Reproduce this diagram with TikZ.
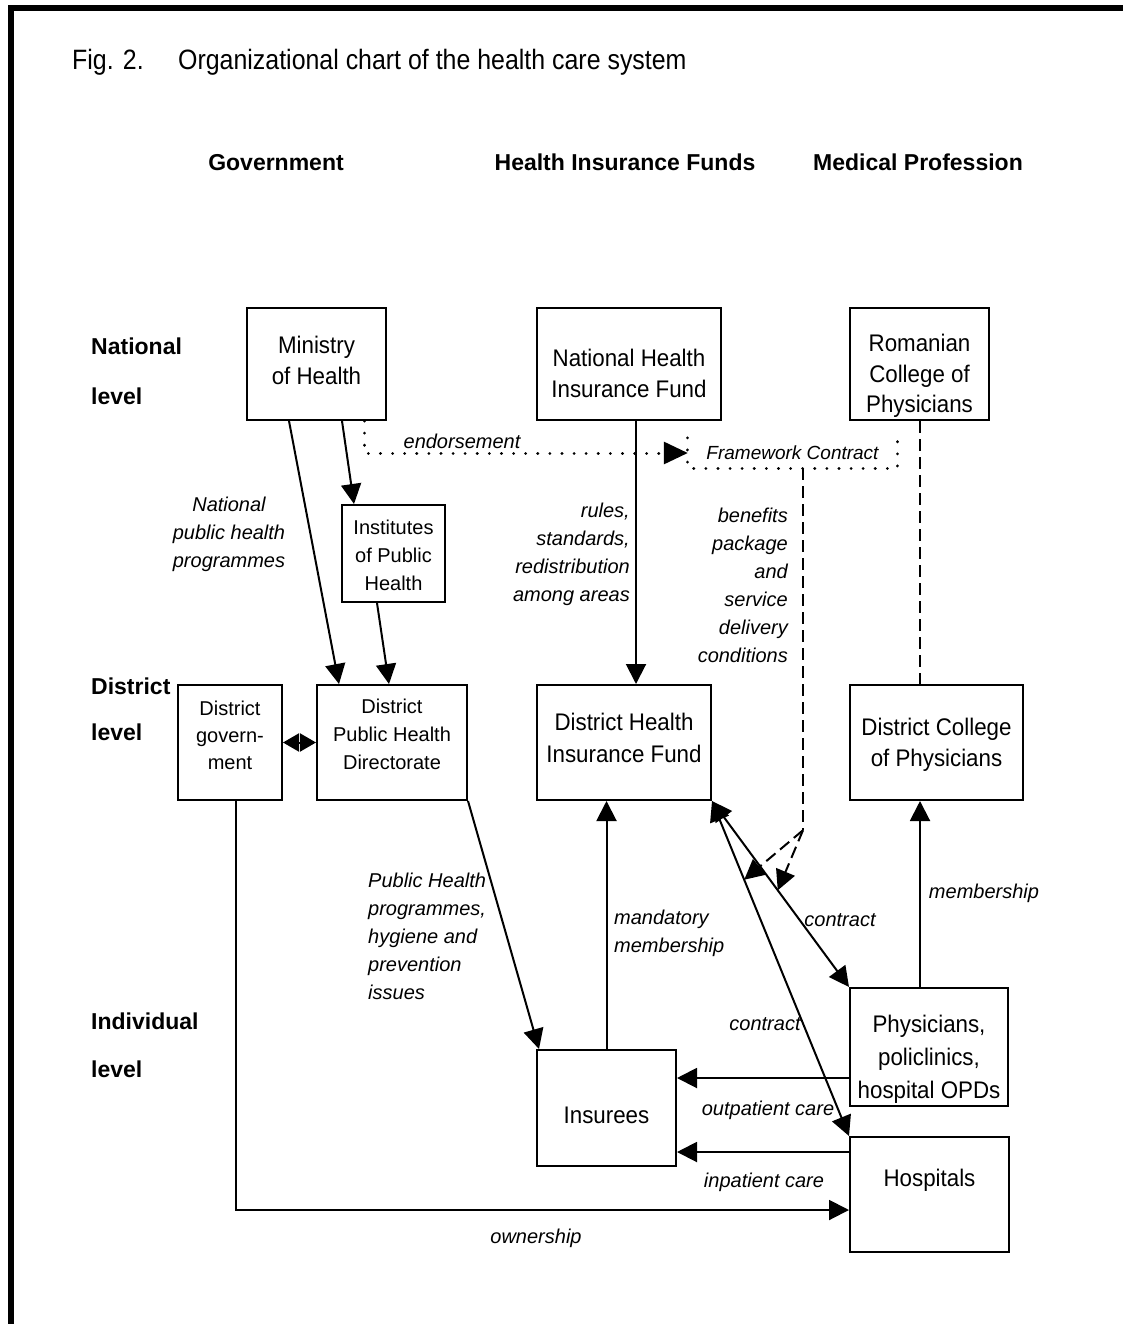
\documentclass[tikz,border=0pt]{standalone}
\usepackage{fontspec}
\setmainfont{Liberation Sans}
\newfontfamily\condfont[FakeStretch=0.89]{Liberation Sans}
\newfontfamily\boxfont[FakeStretch=0.93]{Liberation Sans}
\usetikzlibrary{arrows.meta,calc}

\tikzset{
  unitbox/.style={draw, line width=2pt, inner sep=0pt},
  bigtext/.style={inner sep=0pt, align=center, font=\boxfont\fontsize{24}{31}\selectfont},
  smalltext/.style={inner sep=0pt, align=center, font=\fontsize{20}{28}\selectfont},
  lbl/.style={font=\itshape\fontsize{20}{28}\selectfont, inner sep=0pt},
  hdr/.style={font=\bfseries\fontsize{23}{28}\selectfont, inner sep=0pt},
  tipA/.tip={Triangle[length=20pt,width=20pt]},
  tipS/.tip={Triangle[length=16pt,width=18pt]},
  link/.style={line width=2pt, -tipA},
  dlink/.style={line width=2pt, tipA-tipA},
  dotline/.style={line width=3pt, line cap=round, dash pattern=on 0.1pt off 12pt},
  dashline/.style={line width=2pt, dash pattern=on 12pt off 6pt},
}

\begin{document}
\begin{tikzpicture}[x=1pt, y=-1pt]
\useasboundingbox (0,0) rectangle (1123,1324);
\fill[white] (0,0) rectangle (1123,1324);

% frame
\draw[line width=6pt] (11,1324) -- (11,8) -- (1123,8);

% title
\node[anchor=base west, inner sep=0pt, font=\condfont\fontsize{28}{32}\selectfont] (figno) at (72,70) {Fig. 2.};
\node[anchor=base west, inner sep=0pt, font=\condfont\fontsize{28}{32}\selectfont] (title) at (178,70) {Organizational chart of the health care system};

% column headers
\node[hdr, anchor=base] (hgov) at (276,171) {Government};
\node[hdr, anchor=base] (hfund) at (625,171) {Health Insurance Funds};
\node[hdr, anchor=base] (hmed) at (918,171) {Medical Profession};

% row headers
\node[hdr, anchor=base west] (rnat1) at (91,354) {National};
\node[hdr, anchor=base west] (rnat2) at (91,404) {level};
\node[hdr, anchor=base west] (rdis1) at (91,694) {District};
\node[hdr, anchor=base west] (rdis2) at (91,740) {level};
\node[hdr, anchor=base west] (rind1) at (91,1029) {Individual};
\node[hdr, anchor=base west] (rind2) at (91,1077) {level};

% national level boxes
\node[unitbox, minimum width=139, minimum height=112] (moh) at (316.5,364) {};
\node[unitbox, minimum width=184, minimum height=112] (nhif) at (629,364) {};
\node[unitbox, minimum width=139, minimum height=112] (rcp) at (919.5,364) {};
\node[unitbox, minimum width=103, minimum height=97] (iph) at (393.5,553.5) {};

% district level boxes
\node[unitbox, minimum width=104, minimum height=115] (dgov) at (230,742.5) {};
\node[unitbox, minimum width=150, minimum height=115] (dphd) at (392,742.5) {};
\node[unitbox, minimum width=174, minimum height=115] (dhif) at (624,742.5) {};
\node[unitbox, minimum width=173, minimum height=115] (dcp) at (936.5,742.5) {};

% individual level boxes
\node[unitbox, minimum width=158, minimum height=118] (phys) at (929,1047) {};
\node[unitbox, minimum width=139, minimum height=116] (ins) at (606.5,1108) {};
\node[unitbox, minimum width=159, minimum height=115] (hosp) at (929.5,1194.5) {};

% box texts
\node[bigtext] (moh-t) at ($(moh)+(0,-3.5)$) {Ministry\\of Health};
\node[bigtext] (nhif-t) at ($(nhif)+(0,9)$) {National Health\\Insurance Fund};
\node[bigtext, font=\boxfont\fontsize{24}{30.5}\selectfont] (rcp-t) at ($(rcp)+(0,12)$) {Romanian\\College of\\Physicians};
\node[smalltext] (iph-t) at ($(iph)+(0,2)$) {Institutes\\of Public\\Health};
\node[smalltext, font=\fontsize{20}{27}\selectfont] (dgov-t) at ($(dgov)+(0,-7)$) {District\\govern-\\ment};
\node[smalltext, font=\fontsize{20}{28}\selectfont] (dphd-t) at ($(dphd)+(0,-8)$) {District\\Public Health\\Directorate};
\node[bigtext, font=\boxfont\fontsize{24}{32}\selectfont] (dhif-t) at ($(dhif)+(0,-4.5)$) {District Health\\Insurance Fund};
\node[bigtext] (dcp-t) at ($(dcp)+(0,2)$) {District College\\of Physicians};
\node[bigtext, font=\boxfont\fontsize{24}{33}\selectfont] (phys-t) at ($(phys)+(0,12)$) {Physicians,\\policlinics,\\hospital OPDs};
\node[bigtext] (ins-t) at ($(ins)+(0,7)$) {Insurees};
\node[bigtext] (hosp-t) at ($(hosp)+(0,-14.5)$) {Hospitals};

% framework contract
\node[lbl, font=\itshape\fontsize{19}{24}\selectfont, minimum width=209, minimum height=30] (fc) at (792.5,453) {Framework Contract};
\draw[dotline] (fc.north west) -- (fc.south west) -- (fc.south east) -- (fc.north east);

% ministry links
\draw[link] ([xshift=43pt]moh.south west) -- ([xshift=23pt]dphd.north west);
\draw[link] ([xshift=96pt]moh.south west) -- ([xshift=13pt]iph.north west);
\draw[link] ([xshift=36pt]iph.south west) -- ([xshift=73pt]dphd.north west);
\draw[dotline, -{Triangle[length=24pt,width=22pt]}] ([xshift=118pt]moh.south west) |- (fc.west);

% insurance fund hierarchy
\draw[link] ([xshift=7pt]nhif.south) -- ([xshift=7pt]nhif.south |- dhif.north);
\draw[dashline] (rcp.south) -- (rcp.south |- dcp.north);

% district links
\draw[line width=2pt, tipS-tipS] (dgov.east) -- (dphd.west);
\draw[link] (dphd.south east) -- ([xshift=3pt]ins.north west);
\draw[link] (ins.north) -- (ins.north |- dhif.south);
\draw[link] ([xshift=-9pt]phys.north) -- ([xshift=-9pt]phys.north |- dcp.south);
\draw[link] ([xshift=59pt]dgov.south west) |- ([yshift=-15.5pt]hosp.west);

% contracts
\draw[dlink] (dhif.south east) -- (phys.north west);
\draw[dlink] (dhif.south east) -- (hosp.north west);
\coordinate (split) at ($([xshift=10.5pt]fc.south)+(0,362)$);
\draw[dashline] ([xshift=10.5pt]fc.south) -- (split);
\draw[dashline, -tipA] (split) -- ($(dhif.south east)!0.235!(hosp.north west)$);
\draw[dashline, -tipA] (split) -- ($(dhif.south east)!0.48!(phys.north west)$);

% care flows
\draw[link] ([yshift=-31pt]phys.west) -- ([yshift=-31pt]phys.west -| ins.east);
\draw[link] ([yshift=42.5pt]hosp.west) -- ([yshift=42.5pt]hosp.west -| ins.east);

% labels
\node[lbl] (lendo) at (462,441) {endorsement};
\node[lbl, align=center] (lnph) at (229,534) {National\\public health\\programmes};
\node[lbl, align=right, anchor=east] (lrules) at (630,554) {rules,\\standards,\\redistribution\\among areas};
\node[lbl, align=right, anchor=east] (lbenef) at (788,585) {benefits\\package\\and\\service\\delivery\\conditions};
\node[lbl, align=left, anchor=west] (lphp) at (368,936) {Public Health\\programmes,\\hygiene and\\prevention\\issues};
\node[lbl, align=left, anchor=west] (lmand) at (614,933) {mandatory\\membership};
\node[lbl] (lcon1) at (840,920) {contract};
\node[lbl] (lmemb) at (984,893) {membership};
\node[lbl] (lcon2) at (765,1024) {contract};
\node[lbl] (lout) at (768,1110) {outpatient care};
\node[lbl] (linp) at (764,1182) {inpatient care};
\node[lbl] (lown) at (536,1238) {ownership};
\end{tikzpicture}
\end{document}
